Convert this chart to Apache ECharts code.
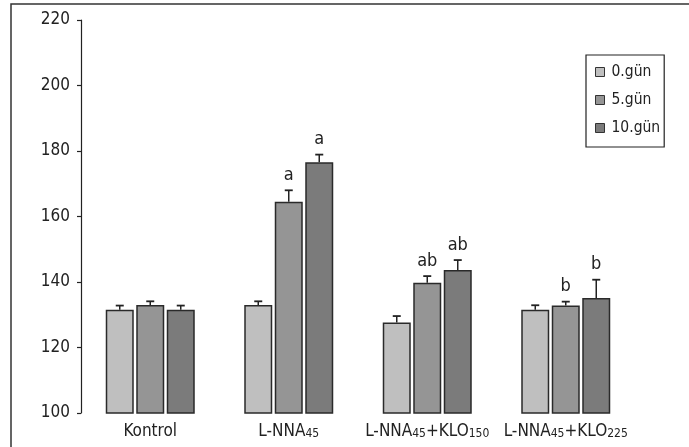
<!DOCTYPE html>
<html>
<head>
<meta charset="utf-8">
<script src="https://cdn.jsdelivr.net/npm/echarts@6/dist/echarts.min.js"></script>
<style>
html,body{margin:0;padding:0;background:#fff;}
#c{width:689px;height:447px;}
</style>
</head>
<body>
<div id="c"></div>
<script>
// ---- data ----
var categories = ['Kontrol', 'L-NNA45', 'L-NNA45+KLO150', 'L-NNA45+KLO225'];
var seriesNames = ['0.gün', '5.gün', '10.gün'];
var day0 = [131.5, 133, 127.6, 131.5];
var day5 = [133, 164.5, 139.8, 132.8];
var day10 = [131.5, 176.6, 143.7, 135.1];
var err0 = [1.3, 1.1, 2.0, 1.4];
var err5 = [1.1, 3.5, 2.0, 1.2];
var err10 = [1.3, 2.3, 3.0, 5.6];
var sig0 = ['', '', '', ''];
var sig5 = ['', 'a', 'ab', 'b'];
var sig10 = ['', 'a', 'ab', 'b'];
var yTicks = [100, 120, 140, 160, 180, 200, 220];

var FONT = '"Liberation Sans Narrow", "DejaVu Sans Condensed", "Liberation Sans", sans-serif';
var colors = ['#bfbfbf', '#959595', '#7b7b7b'];
var BAR_W = 28, BAR_GAP = 2.5;

var means = [day0, day5, day10];
var errs = [err0, err5, err10];
var sigs = [sig0, sig5, sig10];

var errData = [];
for (var s = 0; s < 3; s++) {
  for (var i = 0; i < categories.length; i++) {
    errData.push({value: [i, s, means[s][i], errs[s][i]], sig: sigs[s][i]});
  }
}

var chart = echarts.init(document.getElementById('c'), null, {renderer: 'canvas'});

var barSeries = seriesNames.map(function (n, k) {
  return {
    name: n,
    type: 'bar',
    data: means[k],
    barWidth: BAR_W,
    barGap: (BAR_GAP / BAR_W * 100) + '%',
    itemStyle: {color: colors[k], borderColor: '#2a2a2a', borderWidth: 1.5},
    emphasis: {disabled: true},
    z: 2
  };
});

chart.setOption({
  animation: false,
  backgroundColor: '#fff',
  graphic: [{
    type: 'rect', x: 11, y: 4, silent: true,
    shape: {x: 0, y: 0, width: 700, height: 470},
    style: {fill: 'none', stroke: '#333', lineWidth: 1.5}
  }],
  grid: {left: 81, right: 54, top: 20, bottom: 34},
  legend: {
    data: seriesNames,
    orient: 'vertical',
    left: 586, top: 55,
    padding: [9, 4, 11, 9],
    itemGap: 12,
    itemWidth: 9, itemHeight: 9,
    icon: 'rect',
    borderColor: '#222', borderWidth: 1.2,
    itemStyle: {borderColor: '#333', borderWidth: 1},
    textStyle: {fontFamily: FONT, fontSize: 15.5, color: '#222', padding: [0, 0, 0, 2]},
    selectedMode: false
  },
  xAxis: {
    type: 'category',
    data: categories,
    axisLine: {show: false},
    axisTick: {show: false},
    axisLabel: {
      margin: 10,
      interval: 0,
      fontFamily: FONT, fontSize: 17, color: '#222',
      formatter: function (v) { return v.replace(/(\d+)/g, '{s|$1}'); },
      rich: {s: {fontFamily: FONT, fontSize: 12, color: '#222', verticalAlign: 'bottom'}}
    }
  },
  yAxis: {
    type: 'value',
    min: yTicks[0], max: yTicks[yTicks.length - 1], interval: 20,
    axisLine: {show: true, lineStyle: {color: '#222', width: 1.2}},
    axisTick: {show: true, length: 4, lineStyle: {color: '#222', width: 1.2}},
    splitLine: {show: false},
    axisLabel: {margin: 11, fontFamily: FONT, fontSize: 17, color: '#222'}
  },
  series: barSeries.concat([{
    type: 'custom',
    z: 5,
    silent: true,
    data: errData,
    renderItem: function (params, api) {
      var cat = api.value(0), s = api.value(1), m = api.value(2), e = api.value(3);
      var offset = (s - 1) * (BAR_W + BAR_GAP);
      var p0 = api.coord([cat, m]);
      var p1 = api.coord([cat, m + e]);
      var x = p0[0] + offset;
      var sig = errData[params.dataIndex].sig;
      var children = [
        {type: 'line', shape: {x1: x, y1: p0[1], x2: x, y2: p1[1]}, style: {stroke: '#222', lineWidth: 1.5}},
        {type: 'line', shape: {x1: x - 4, y1: p1[1], x2: x + 4, y2: p1[1]}, style: {stroke: '#222', lineWidth: 1.8}}
      ];
      if (sig) {
        children.push({type: 'text', x: x, y: p1[1] - 6,
          style: {text: sig, fontFamily: FONT, fontSize: 18, fill: '#222', align: 'center', verticalAlign: 'bottom'}});
      }
      return {type: 'group', children: children};
    }
  }])
});
</script>
</body>
</html>
